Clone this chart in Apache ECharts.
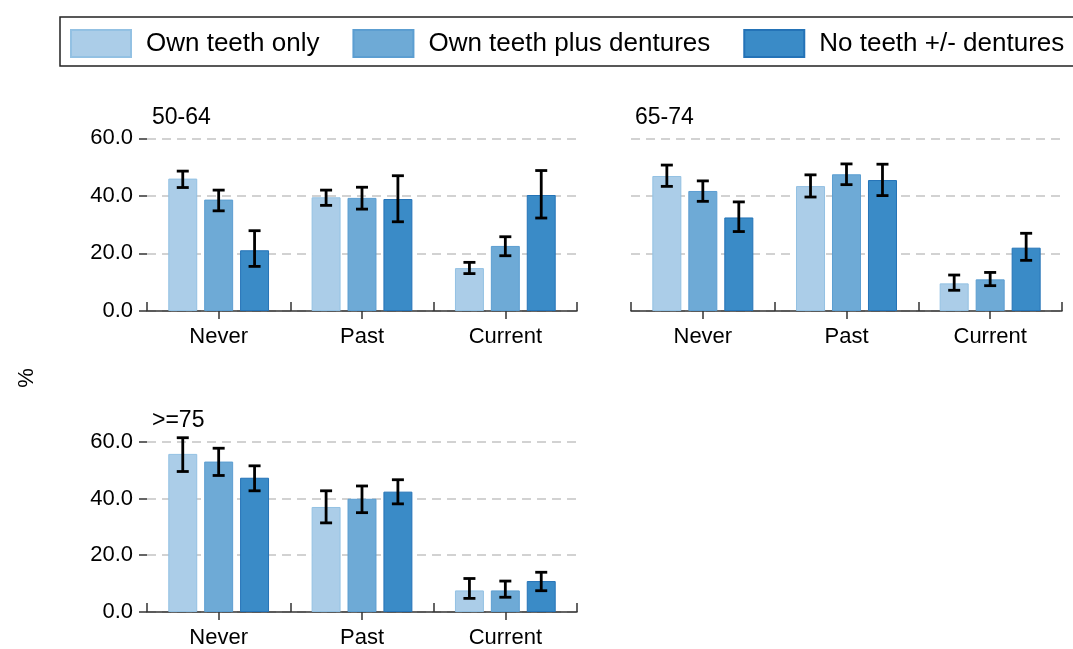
<!DOCTYPE html>
<html>
<head>
<meta charset="utf-8">
<script src="https://cdn.jsdelivr.net/npm/echarts@6/dist/echarts.min.js"></script>
<style>html,body{margin:0;padding:0;background:#fff;}#chart{width:1073px;height:649px;}</style>
</head>
<body>
<div id="chart"></div>
<script>
const categories = ['Never', 'Past', 'Current'];
const seriesNames = ['Own teeth only', 'Own teeth plus dentures', 'No teeth +/- dentures'];
const panelTitles = ['50-64', '65-74', '>=75'];
const yTickValues = [0, 20, 40, 60];

// Panel 50-64
const p1Own = [46.0, 39.5, 14.9];
const p1OwnLo = [42.9, 36.7, 13.0];
const p1OwnHi = [48.6, 42.0, 16.9];
const p1Plus = [38.7, 39.3, 22.6];
const p1PlusLo = [34.8, 35.4, 19.2];
const p1PlusHi = [42.0, 43.0, 25.8];
const p1None = [21.1, 38.9, 40.3];
const p1NoneLo = [15.5, 31.0, 32.3];
const p1NoneHi = [27.9, 47.0, 48.8];

// Panel 65-74
const p2Own = [46.9, 43.4, 9.6];
const p2OwnLo = [43.3, 39.6, 7.2];
const p2OwnHi = [50.7, 47.3, 12.5];
const p2Plus = [41.7, 47.5, 11.0];
const p2PlusLo = [38.1, 43.9, 8.8];
const p2PlusHi = [45.2, 51.1, 13.4];
const p2None = [32.5, 45.5, 22.0];
const p2NoneLo = [27.6, 40.1, 17.6];
const p2NoneHi = [37.9, 51.0, 27.0];

// Panel >=75
const p3Own = [55.7, 37.0, 7.6];
const p3OwnLo = [49.5, 31.4, 4.8];
const p3OwnHi = [61.4, 42.7, 11.8];
const p3Plus = [53.0, 39.9, 7.6];
const p3PlusLo = [48.1, 35.0, 5.2];
const p3PlusHi = [57.7, 44.4, 10.9];
const p3None = [47.3, 42.4, 10.9];
const p3NoneLo = [42.7, 38.1, 7.5];
const p3NoneHi = [51.5, 46.6, 14.0];

const panels = [
  {vals: [p1Own, p1Plus, p1None], lo: [p1OwnLo, p1PlusLo, p1NoneLo], hi: [p1OwnHi, p1PlusHi, p1NoneHi]},
  {vals: [p2Own, p2Plus, p2None], lo: [p2OwnLo, p2PlusLo, p2NoneLo], hi: [p2OwnHi, p2PlusHi, p2NoneHi]},
  {vals: [p3Own, p3Plus, p3None], lo: [p3OwnLo, p3PlusLo, p3NoneLo], hi: [p3OwnHi, p3PlusHi, p3NoneHi]}
];

const FONT = '"Liberation Sans", Arial, sans-serif';
const fills = ['#abcde8', '#6eaad6', '#3a8bc7'];
const borders = ['#93c1e3', '#5c9ed1', '#2473b7'];
const BW = 0.202, GAP = 0.24;

const grids = [
  {left: 147, top: 138.3, width: 430, height: 172.7},
  {left: 631, top: 138.3, width: 431, height: 172.7},
  {left: 147, top: 441.7, width: 430, height: 172.6}
];

const xAxes = [], yAxes = [], series = [];
grids.forEach((g, gi) => {
  xAxes.push({
    type: 'category', data: categories, gridIndex: gi, position: 'bottom', boundaryGap: true,
    axisLine: {show: true, lineStyle: {color: '#333', width: 1.5}},
    axisTick: {show: true, inside: true, length: 9, lineStyle: {color: '#333', width: 1.5}},
    axisLabel: {show: false}, splitLine: {show: false}
  });
  xAxes.push({
    type: 'category', data: categories, gridIndex: gi, position: 'bottom', offset: 0, boundaryGap: true,
    axisLine: {show: false},
    axisTick: {show: true, alignWithLabel: true, length: 8, lineStyle: {color: '#333', width: 1.5}},
    axisLabel: {show: true, fontSize: 22, fontFamily: FONT, color: '#000', margin: 15},
    splitLine: {show: false}
  });
  const showY = gi !== 1;
  yAxes.push({
    type: 'value', gridIndex: gi, min: 0, max: 60, interval: 20,
    axisLine: {show: false},
    axisTick: {show: showY, length: 8, lineStyle: {color: '#333', width: 1.5}},
    axisLabel: {show: showY, fontSize: 22, fontFamily: FONT, color: '#000', margin: 14,
      formatter: v => v.toFixed(1)},
    splitLine: {show: true, lineStyle: {color: '#c4c4c4', width: 1.5, type: [9, 6]}}
  });
  const p = panels[gi];
  for (let k = 0; k < 3; k++) {
    series.push({
      type: 'bar', name: seriesNames[k], xAxisIndex: gi * 2, yAxisIndex: gi,
      data: p.vals[k], barWidth: (BW * 100) + '%', barGap: (GAP * 100) + '%',
      itemStyle: {color: fills[k], borderColor: borders[k], borderWidth: 1},
      emphasis: {disabled: true}, z: 2
    });
  }
  for (let k = 0; k < 3; k++) {
    const errData = categories.map((c, i) => [i, p.lo[k][i], p.hi[k][i]]);
    series.push({
      type: 'custom', name: seriesNames[k] + ' CI', xAxisIndex: gi * 2, yAxisIndex: gi,
      data: errData, clip: false, z: 5, silent: true,
      encode: {x: 0, y: [1, 2]},
      renderItem: (params, api) => {
        const ci = api.value(0);
        const a = api.coord([ci, api.value(1)]);
        const b = api.coord([ci, api.value(2)]);
        const band = api.size([1, 0])[0];
        const off = (k - 1) * band * BW * (1 + GAP);
        const x = a[0] + off;
        const hw = 6;
        const st = {stroke: '#000', lineWidth: 2.8};
        return {type: 'group', children: [
          {type: 'line', shape: {x1: x, y1: a[1], x2: x, y2: b[1]}, style: st},
          {type: 'line', shape: {x1: x - hw, y1: a[1], x2: x + hw, y2: a[1]}, style: st},
          {type: 'line', shape: {x1: x - hw, y1: b[1], x2: x + hw, y2: b[1]}, style: st}
        ]};
      }
    });
  }
});

const chart = echarts.init(document.getElementById('chart'), null, {renderer: 'canvas'});
chart.setOption({
  animation: false,
  backgroundColor: '#fff',
  legend: {
    data: seriesNames, left: 60, top: 17, width: 1200, padding: [12, 10, 10, 10],
    orient: 'horizontal', itemWidth: 60, itemHeight: 27, itemGap: 33,
    borderWidth: 0, icon: 'rect',
    textStyle: {fontSize: 26, fontFamily: FONT, color: '#000', padding: [0, 0, 0, 10]},
    selectedMode: false
  },
  grid: grids,
  xAxis: xAxes,
  yAxis: yAxes,
  series: series,
  graphic: [
    {type: 'rect', x: 60, y: 17, shape: {width: 1100, height: 49}, z: -1,
      style: {fill: 'none', stroke: '#222', lineWidth: 1.5}},
    {type: 'text', left: 152, top: 106, style: {text: panelTitles[0], fontSize: 23, fontFamily: FONT, fill: '#000'}},
    {type: 'text', left: 635, top: 106, style: {text: panelTitles[1], fontSize: 23, fontFamily: FONT, fill: '#000'}},
    {type: 'text', left: 152, top: 409, style: {text: panelTitles[2], fontSize: 23, fontFamily: FONT, fill: '#000'}},
    {type: 'text', x: 27, y: 378, rotation: Math.PI / 2,
      style: {text: '%', fontSize: 22, fontFamily: FONT, fill: '#000', align: 'center', verticalAlign: 'middle'}}
  ]
});
</script>
</body>
</html>
